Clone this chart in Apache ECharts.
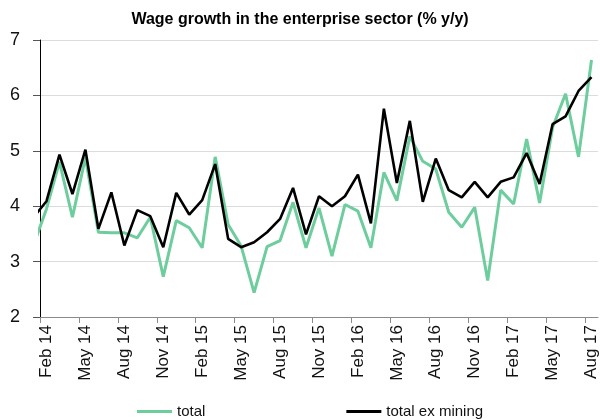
<!DOCTYPE html>
<html>
<head>
<meta charset="utf-8">
<script src="https://cdn.jsdelivr.net/npm/echarts@6/dist/echarts.min.js"></script>
<style>
html,body{margin:0;padding:0;background:#fff;}
#chart{width:600px;height:419px;}
</style>
</head>
<body>
<div id="chart"></div>
<script>
// Months, Feb 14 .. Aug 17
const months = ["Feb 14","Mar 14","Apr 14","May 14","Jun 14","Jul 14","Aug 14","Sep 14","Oct 14","Nov 14","Dec 14","Jan 15",
  "Feb 15","Mar 15","Apr 15","May 15","Jun 15","Jul 15","Aug 15","Sep 15","Oct 15","Nov 15","Dec 15","Jan 16",
  "Feb 16","Mar 16","Apr 16","May 16","Jun 16","Jul 16","Aug 16","Sep 16","Oct 16","Nov 16","Dec 16","Jan 17",
  "Feb 17","Mar 17","Apr 17","May 17","Jun 17","Jul 17","Aug 17"];
// value of the month before the first label (Jan 14), line enters from the axis edge
const totalJan14 = 3.3;
const exMiningJan14 = 3.8;
const total = [3.95,4.80,3.80,4.88,3.53,3.52,3.52,3.43,3.80,2.73,3.74,3.61,
  3.25,4.89,3.67,3.28,2.44,3.27,3.38,4.07,3.25,3.97,3.10,4.03,
  3.91,3.25,4.61,4.10,5.26,4.81,4.67,3.89,3.62,3.98,2.66,4.29,
  4.04,5.21,4.06,5.42,6.03,4.89,6.64];
const totalExMining = [4.09,4.93,4.22,5.02,3.59,4.25,3.29,3.93,3.82,3.26,4.24,3.85,
  4.11,4.76,3.41,3.26,3.35,3.53,3.77,4.33,3.49,4.18,4.00,4.18,
  4.57,3.69,5.76,4.42,5.54,4.08,4.86,4.29,4.16,4.44,4.16,4.44,
  4.52,4.96,4.40,5.48,5.62,6.08,6.33];
const yTicks = [2,3,4,5,6,7];

function toPairs(pre, arr){
  const out = [[-1, pre]];
  arr.forEach((v,i)=>out.push([i, v]));
  return out;
}
const labelIdx = [];
const tickPos = [];
for (let i = 0; i < months.length; i += 3) { labelIdx.push(i); tickPos.push(i - 0.5); }

const FONT = 'Liberation Sans, Arial, sans-serif';
const chart = echarts.init(document.getElementById('chart'), null, {renderer:'canvas'});
chart.setOption({
  animation:false,
  backgroundColor:'#fff',
  title:{
    text:'Wage growth in the enterprise sector (% y/y)',
    left:'center', top:7,
    textStyle:{fontFamily:FONT,fontSize:16,fontWeight:'bold',color:'#000'}
  },
  legend:{
    left:132, top:399, itemGap:141, itemWidth:35, itemHeight:3,
    textStyle:{fontFamily:FONT,fontSize:15,color:'#111'},
    data:[{name:'total',icon:'rect'},{name:'total ex mining',icon:'rect'}]
  },
  grid:{left:40,right:1,top:40,bottom:102,containLabel:false},
  xAxis:{
    type:'value', min:-0.5, max:months.length - 0.5,
    splitLine:{show:false},
    axisLine:{show:true,onZero:false,lineStyle:{color:'#8a8a8a',width:1}},
    axisTick:{show:true,length:6,inside:false,customValues:tickPos,lineStyle:{color:'#8a8a8a'}},
    axisLabel:{
      customValues:labelIdx, rotate:90, margin:8,
      fontFamily:FONT,fontSize:17,color:'#111',
      formatter:(v)=>months[Math.round(v)] || ''
    }
  },
  yAxis:{
    type:'value', min:yTicks[0], max:yTicks[yTicks.length-1], interval:1,
    axisLine:{show:true,onZero:false,lineStyle:{color:'#000',width:1}},
    axisTick:{show:true,length:7,lineStyle:{color:'#555'}},
    axisLabel:{fontFamily:FONT,fontSize:18,color:'#111',margin:20},
    splitLine:{show:true,lineStyle:{color:'#dcdcdc',width:1}}
  },
  series:[
    {name:'total',type:'line',symbol:'none',clip:true,
     data:toPairs(totalJan14,total),
     lineStyle:{color:'#6dcd9d',width:3},itemStyle:{color:'#6dcd9d'},z:2},
    {name:'total ex mining',type:'line',symbol:'none',clip:true,
     data:toPairs(exMiningJan14,totalExMining),
     lineStyle:{color:'#000',width:2.6},itemStyle:{color:'#000'},z:3}
  ]
});
</script>
</body>
</html>
